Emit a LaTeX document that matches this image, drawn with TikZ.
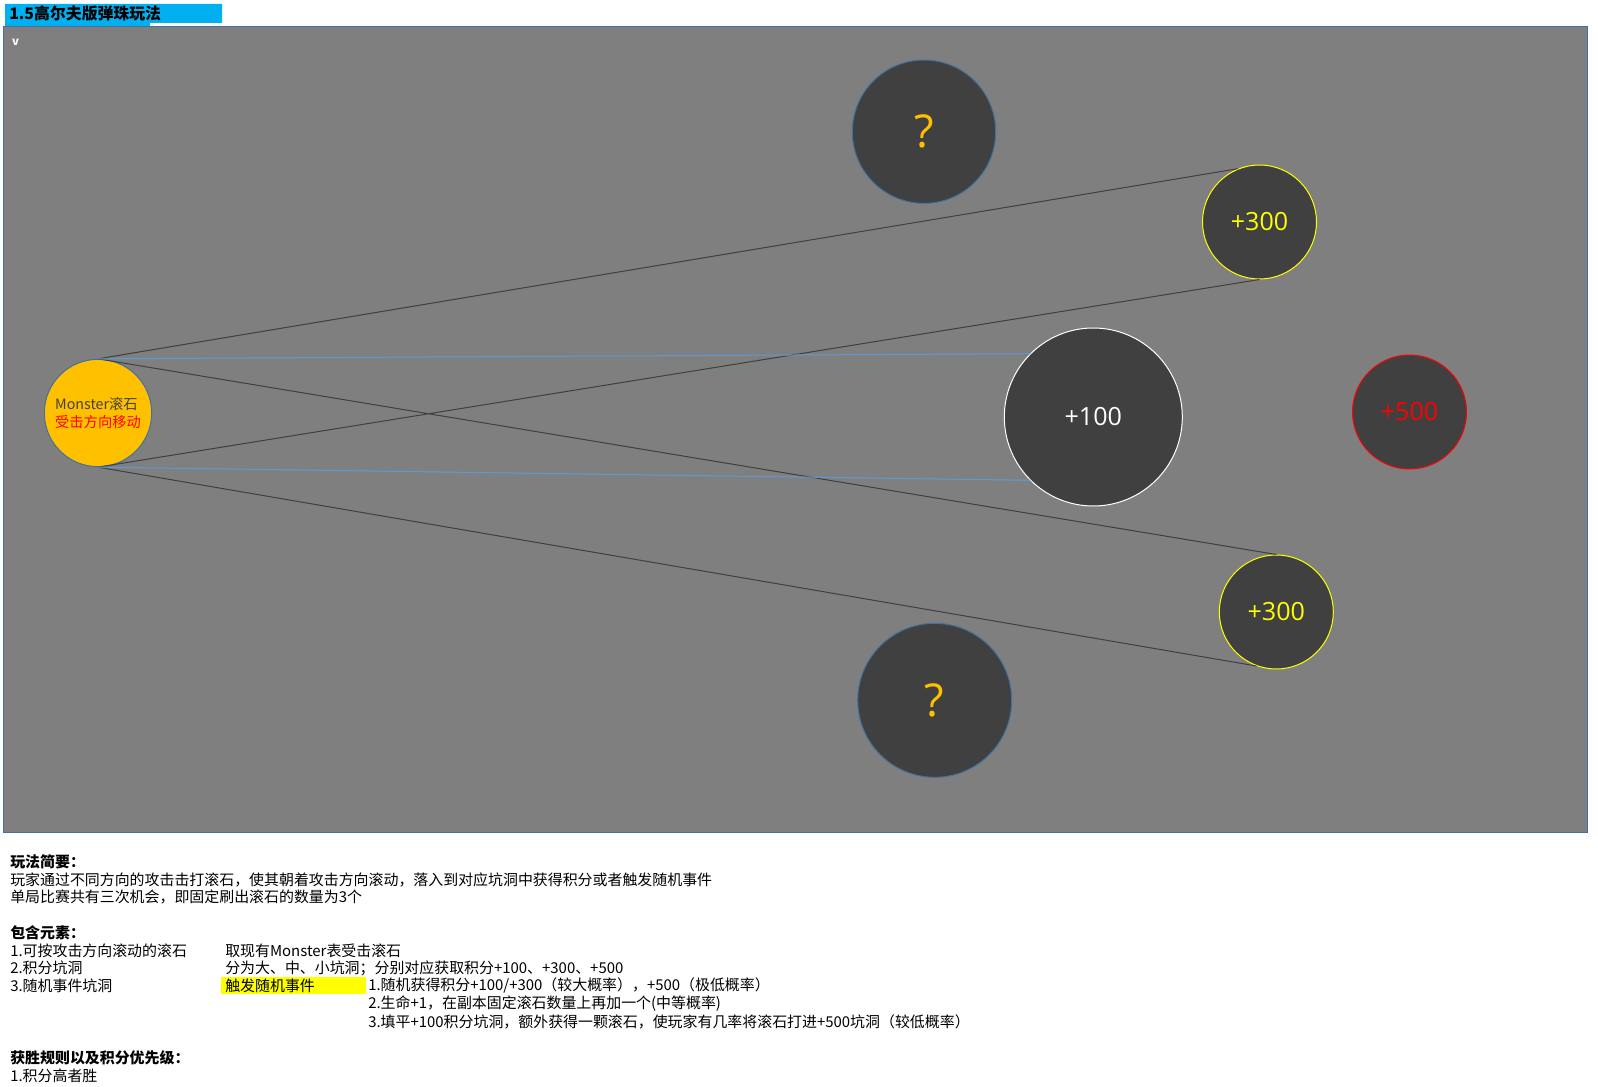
\documentclass[tikz,border=0pt]{standalone}
\usepackage{fontspec}
\setmainfont{Noto Sans CJK SC}
\newfontfamily\seg{Open Sans}
\definecolor{nen}{HTML}{7F7F7F}
\definecolor{hoc}{HTML}{404040}
\definecolor{vien}{HTML}{41719C}
\definecolor{xanh}{HTML}{5B9BD5}
\definecolor{cam}{HTML}{FFC000}
\definecolor{vang}{HTML}{FFFF00}
\definecolor{tieude}{HTML}{00B0F0}
\begin{document}
\begin{tikzpicture}[x=0.75pt,y=-0.75pt,
	ho/.style={circle,fill=hoc,line width=0.75pt,inner sep=0pt},
	duong/.style={draw=hoc,line width=0.75pt},
	duongx/.style={draw=xanh,line width=0.75pt},
	chu/.style={anchor=west,inner sep=0pt,font=\fontsize{11.2pt}{13.4pt}\selectfont}]
	\useasboundingbox (0,0) rectangle (1598,1087);
	\fill[tieude] (5,4) rectangle (222,23) (5,23) rectangle (150,27);
	\node[anchor=west,inner sep=0pt,font=\bfseries\fontsize{11.9pt}{14pt}\selectfont] (tieude) at (9,14) {1.5高尔夫版弹珠玩法};
	\draw[fill=nen,draw=vien,line width=0.75pt] (3,27) rectangle (1587,832);
	\node[text=white,inner sep=0pt,font=\bfseries\fontsize{8.5pt}{9pt}\selectfont] (v) at (15.5,42) {v};
	
	\node[ho,fill=cam,draw=vien,minimum size=80.5pt,align=left,font=\fontsize{10.7pt}{13.5pt}\selectfont] (monster) at (98,413) {\textcolor{hoc}{Monster滚石}\\\textcolor{red}{受击方向移动}};
	\foreach \ten/\vtri/\r/\mau/\mauchu/\co/\nhan in {ask1/{924,131.7}/71.7/vien/cam/34/?,ask2/{934.7,700.3}/77/vien/cam/34/?,p300a/{1259.5,222}/57/vang/vang/18.8/+300,p300b/{1276.3,612}/57/vang/vang/18.8/+300,p100/{1093.3,417}/89/white/white/18.8/+100,p500/{1409.5,412}/57/red/red/18.8/+500}
	\node[ho,draw=\mau,text=\mauchu,minimum size={2*\r*0.75pt},font=\seg\fontsize{\co pt}{\co pt}\selectfont] (\ten) at (\vtri) {\nhan};
	
	\draw[duong] (monster.north)--(p300a.112) (monster.south)--(p300a.south) (monster.north)--(p300b.north) (monster.south)--(p300b.250);
	\draw[duongx] (monster.north)--(p100.135) (monster.south)--(p100.225);
	
	\fill[vang] (221,977) rectangle (366,994);
	\foreach \ten/\cotx/\dongy/\nhan in {l1/10/861.5/{\bfseries 玩法简要：},l2/10/879.5/{玩家通过不同方向的攻击击打滚石，使其朝着攻击方向滚动，落入到对应坑洞中获得积分或者触发随机事件},l3/10/897/{单局比赛共有三次机会，即固定刷出滚石的数量为3个},l4/10/933/{\bfseries 包含元素：},l5/10/950.5/{1.可按攻击方向滚动的滚石},l6/10/968/{2.积分坑洞},l7/10/985.5/{3.随机事件坑洞},l8/225/950.5/{取现有Monster表受击滚石},l9/225/968/{分为大、中、小坑洞；分别对应获取积分+100、+300、+500},l10/225/985.5/{触发随机事件},l11/368/985.5/{1.随机获得积分+100/+300（较大概率），+500（极低概率）},l12/368/1003.5/{2.生命+1，在副本固定滚石数量上再加一个(中等概率)},l13/368/1021.5/{3.填平+100积分坑洞，额外获得一颗滚石，使玩家有几率将滚石打进+500坑洞（较低概率）},l14/10/1058/{\bfseries 获胜规则以及积分优先级：},l15/10/1076/{1.积分高者胜}}
	\node[chu] (\ten) at (\cotx,\dongy) {\nhan};
\end{tikzpicture}
\end{document}
